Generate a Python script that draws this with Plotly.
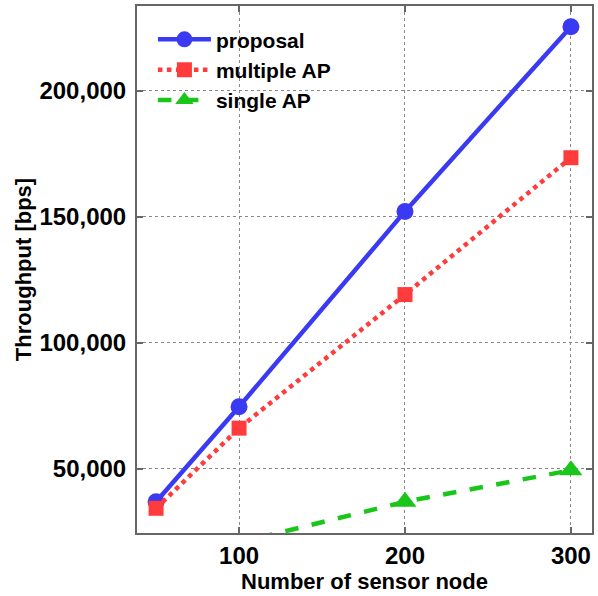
import plotly.graph_objects as go

nodes = [50, 100, 200, 300]
proposal = [37000, 74700, 152200, 225500]
multiple_ap = [34400, 66200, 119200, 173500]
single_ap = [10000, 20800, 37000, 49500]

x_ticks = [100, 200, 300]
y_ticks = [50000, 100000, 150000, 200000]
y_tick_labels = ["50,000", "100,000", "150,000", "200,000"]

font_family = "Liberation Sans, Arial, sans-serif"

fig = go.Figure()
fig.add_trace(go.Scatter(
    x=nodes, y=proposal, name="proposal", mode="lines+markers",
    line=dict(color="#3a3af2", width=4.5, dash="solid"),
    marker=dict(symbol="circle", size=17, color="#3a3af2"),
))
fig.add_trace(go.Scatter(
    x=nodes, y=multiple_ap, name="multiple AP", mode="lines+markers",
    line=dict(color="#ff3b3b", width=4.5, dash="dot"),
    marker=dict(symbol="square", size=15, color="#ff3b3b"),
))
fig.add_trace(go.Scatter(
    x=nodes, y=single_ap, name="single AP", mode="lines+markers",
    line=dict(color="#19c619", width=4.5, dash="dash"),
    marker=dict(symbol="triangle-up", size=20, color="#19c619"),
))

axis_common = dict(
    showline=True, linecolor="#666666", linewidth=2, mirror="ticks",
    ticks="inside", ticklen=6, tickwidth=1.5, tickcolor="#666666",
    showgrid=True, gridcolor="#888888", griddash="dot", gridwidth=1,
    zeroline=False, automargin=False,
    tickfont=dict(family=font_family, size=24, color="black", weight="bold"),
)

fig.update_xaxes(
    range=[38.5, 312.7], tickvals=x_ticks,
    title=dict(text="Number of sensor node", standoff=4,
               font=dict(family=font_family, size=22, color="black", weight="bold")),
    **axis_common,
)
fig.update_yaxes(
    range=[24600, 233700], tickvals=y_ticks, ticktext=y_tick_labels,
    ticklabelstandoff=4,
    title=dict(text="Throughput [bps]", standoff=2,
               font=dict(family=font_family, size=22, color="black", weight="bold")),
    **axis_common,
)

fig.update_layout(
    width=598, height=596,
    margin=dict(l=137, r=6, t=6, b=63),
    plot_bgcolor="white", paper_bgcolor="white",
    legend=dict(
        x=0.035, y=0.975, xanchor="left", yanchor="top",
        bgcolor="rgba(0,0,0,0)",
        font=dict(family=font_family, size=21, color="black", weight="bold"),
        itemwidth=53, tracegroupgap=0,
    ),
)

fig.write_html(
    "out.html",
    config={"displayModeBar": False},
    post_script="document.body.style.margin='0';document.body.style.padding='0';",
)
